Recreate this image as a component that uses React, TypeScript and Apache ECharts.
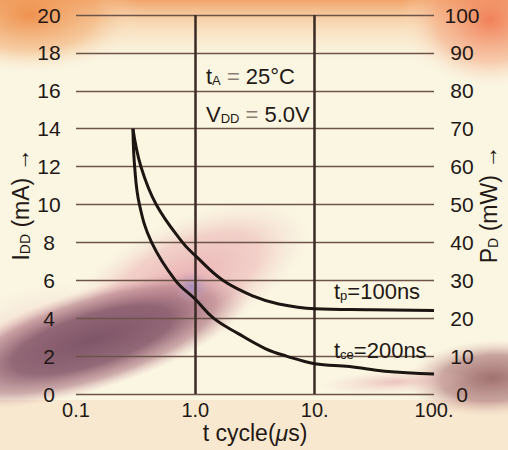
import React, { useEffect, useRef } from 'react';
import * as echarts from 'echarts';

// ---- data ----
const xTickValues = [0.1, 1, 10, 100];
const xTickLabels = ['0.1', '1.0', '10.', '100.'];
const majorCycles = [1, 10]; // vertical rule lines

// t_p = 100ns curve : cycle time (µs) -> I_DD (mA)
const cycleTp = [0.3, 0.35, 0.47, 0.78, 1.0, 1.7, 3.1, 5.0, 10, 30, 100];
const iddTp = [14, 12, 10, 8, 7.3, 6.0, 5.15, 4.75, 4.5, 4.45, 4.4];

// t_ce = 200ns curve
const cycleTce = [0.3, 0.31, 0.34, 0.43, 0.68, 1.0, 1.42, 2.27, 3.85, 5.8, 10, 19.6, 38.6, 100];
const iddTce = [14, 12, 10, 8, 6.0, 5.0, 4.0, 3.2, 2.4, 2.0, 1.6, 1.45, 1.2, 1.05];

const FONT = '"Liberation Sans", Arial, Helvetica, sans-serif';
const INK = '#231815';

const PLOT_LEFT = 76;
const PLOT_RIGHT = 434;
const PLOT_TOP = 15;
const PLOT_BOTTOM = 394;

function bgEllipse(x: number, y: number, rx: number, ry: number, rot: number, stops: [number, string][]) {
  return {
    type: 'ellipse',
    x,
    y,
    rotation: rot,
    shape: { cx: 0, cy: 0, rx, ry },
    style: {
      fill: {
        type: 'radial',
        x: 0.5,
        y: 0.5,
        r: 0.5,
        colorStops: stops.map(([offset, color]) => ({ offset, color })),
      },
    },
    silent: true,
    z: -10,
  };
}

function annText(x: number, y: number, text: string, rich: any) {
  return {
    type: 'text',
    x,
    y,
    z: 100,
    silent: true,
    style: {
      text,
      fill: INK,
      font: `22px ${FONT}`,
      fontSize: 22,
      fontFamily: FONT,
      align: 'left',
      verticalAlign: 'middle',
      rich,
    },
  };
}

const annRich = {
  m: { fontSize: 22, fontFamily: FONT, fill: INK, lineHeight: 24, verticalAlign: 'bottom' },
  s: { fontSize: 13, fontFamily: FONT, fill: INK, lineHeight: 14, verticalAlign: 'bottom' },
  e: { fontSize: 22, fontFamily: FONT, fill: '#8a7b72', lineHeight: 24, verticalAlign: 'bottom' },
};

export default function App() {
  const ref = useRef<HTMLDivElement>(null);

  useEffect(() => {
    if (!ref.current) return;
    const chart = echarts.init(ref.current, null, { renderer: 'svg', width: 508, height: 450 });

    const labelFor = (v: number) => {
      const i = xTickValues.findIndex((t) => Math.abs(Math.log10(t) - Math.log10(v)) < 0.01);
      return i >= 0 ? xTickLabels[i] : '';
    };

    const nameRich = {
      n: { fontSize: 23, fontFamily: FONT, color: INK, lineHeight: 24, verticalAlign: 'bottom' },
      s: { fontSize: 14, fontFamily: FONT, color: INK, lineHeight: 15, verticalAlign: 'bottom' },
    };

    const gridOpt = {
      left: PLOT_LEFT,
      right: 508 - PLOT_RIGHT,
      top: PLOT_TOP,
      bottom: 450 - PLOT_BOTTOM,
      outerBoundsMode: 'none',
      containLabel: false,
    };

    chart.setOption({
      animation: false,
      backgroundColor: '#faf6e2',
      grid: gridOpt,
      xAxis: {
        type: 'log',
        logBase: 10,
        min: 0.1,
        max: 100,
        axisLine: { show: false },
        axisTick: { show: false },
        splitLine: { show: false },
        axisLabel: {
          formatter: labelFor,
          fontSize: 20,
          fontFamily: FONT,
          color: INK,
          margin: 6,
          showMinLabel: true,
          showMaxLabel: true,
        },
        name: '{n|t cycle(}{u|μ}{n|s)}',
        nameLocation: 'middle',
        nameGap: 27,
        nameMoveOverlap: false,
        nameTextStyle: {
          rich: {
            n: { fontSize: 23, fontFamily: FONT, color: INK },
            u: { fontSize: 23, fontFamily: FONT, color: INK, fontStyle: 'italic' },
          },
        },
      },
      yAxis: [
        {
          type: 'value',
          min: 0,
          max: 20,
          interval: 2,
          position: 'left',
          axisLine: { show: false },
          axisTick: { show: false },
          splitLine: { show: true, lineStyle: { color: '#6e534a', width: 1.3 } },
          axisLabel: { fontSize: 21, fontFamily: FONT, color: INK, align: 'center', margin: 27 },
          name: '{n|I}{s|DD}{n| (mA) →}',
          nameLocation: 'middle',
          nameRotate: 90,
          nameGap: 44,
          nameMoveOverlap: false,
          nameTextStyle: { rich: nameRich },
        },
        {
          type: 'value',
          min: 0,
          max: 100,
          interval: 10,
          position: 'right',
          axisLine: { show: false },
          axisTick: { show: false },
          splitLine: { show: false },
          axisLabel: { fontSize: 21, fontFamily: FONT, color: INK, align: 'center', margin: 28 },
          name: '{n|P}{s|D}{n| (mW) →}',
          nameLocation: 'middle',
          nameRotate: 90,
          nameGap: 42,
          nameMoveOverlap: false,
          nameTextStyle: { rich: nameRich },
        },
      ],
      graphic: [
        { type: 'rect', shape: { x: 0, y: 400, width: 508, height: 50 }, style: { fill: 'rgba(246,226,200,0.7)' }, silent: true, z: -11 },
        {
          type: 'rect',
          shape: { x: 0, y: 0, width: 508, height: 70 },
          style: {
            fill: {
              type: 'linear', x: 0, y: 0, x2: 0, y2: 1,
              colorStops: [
                { offset: 0, color: 'rgba(240,150,85,0.85)' },
                { offset: 0.35, color: 'rgba(245,185,130,0.45)' },
                { offset: 1, color: 'rgba(250,246,226,0)' },
              ],
            },
          },
          silent: true,
          z: -10,
        },
        bgEllipse(30, 15, 110, 60, 0, [[0, 'rgba(238,140,70,0.9)'], [0.6, 'rgba(242,170,110,0.5)'], [1, 'rgba(250,240,220,0)']]),
        bgEllipse(490, 20, 90, 70, 0, [[0, 'rgba(240,125,85,0.95)'], [0.6, 'rgba(244,160,120,0.5)'], [1, 'rgba(250,240,220,0)']]),
        bgEllipse(185, 280, 135, 60, 0.45, [[0, 'rgba(230,165,172,0.85)'], [0.6, 'rgba(235,178,180,0.55)'], [1, 'rgba(245,220,210,0)']]),
        bgEllipse(40, 335, 100, 50, 0.25, [[0, 'rgba(232,180,180,0.65)'], [1, 'rgba(245,220,210,0)']]),
        bgEllipse(92, 340, 165, 50, 0.3, [[0, 'rgba(120,78,98,0.95)'], [0.5, 'rgba(135,90,108,0.9)'], [0.78, 'rgba(175,120,132,0.6)'], [1, 'rgba(220,170,175,0)']]),
        bgEllipse(192, 287, 18, 16, 0, [[0, 'rgba(160,140,195,0.8)'], [1, 'rgba(200,170,200,0)']]),
        bgEllipse(492, 378, 85, 38, 0.05, [[0, 'rgba(155,105,105,0.95)'], [0.6, 'rgba(178,128,128,0.7)'], [1, 'rgba(230,190,180,0)']]),
        bgEllipse(395, 382, 75, 12, 0.05, [[0, 'rgba(225,160,165,0.6)'], [1, 'rgba(240,200,200,0)']]),
        annText(206, 75, '{m|t}{s|A}{e| = }{m|25°C}', annRich),
        annText(206, 113, '{m|V}{s|DD}{e| = }{m|5.0V}', annRich),
        annText(334, 290, '{m|t}{s|p}{m|=100ns}', annRich),
        annText(334, 349, '{m|t}{s|ce}{m|=200ns}', annRich),
      ],
      series: [
        {
          name: 'tp=100ns',
          type: 'line',
          data: cycleTp.map((c, i) => [c, iddTp[i]]),
          smooth: 0.4,
          symbol: 'none',
          lineStyle: { color: '#1c1512', width: 3 },
          z: 5,
        },
        {
          name: 'tce=200ns',
          type: 'line',
          data: cycleTce.map((c, i) => [c, iddTce[i]]),
          smooth: 0.4,
          symbol: 'none',
          lineStyle: { color: '#1c1512', width: 3 },
          z: 5,
          markLine: {
            silent: true,
            symbol: ['none', 'none'],
            label: { show: false },
            lineStyle: { color: '#3b2a24', width: 2.5, type: 'solid' },
            data: majorCycles.map((v) => ({ xAxis: v })),
          },
        },
      ],
    });

    // make sure the plot rectangle lands where intended (guards against automatic outer-bound shrinking)
    const xl = chart.convertToPixel({ xAxisIndex: 0 }, 0.1) as number;
    const xr = chart.convertToPixel({ xAxisIndex: 0 }, 100) as number;
    const yb = chart.convertToPixel({ yAxisIndex: 0 }, 0) as number;
    const yt = chart.convertToPixel({ yAxisIndex: 0 }, 20) as number;
    const dl = PLOT_LEFT - xl;
    const dr = PLOT_RIGHT - xr;
    const dt = PLOT_TOP - yt;
    const db = PLOT_BOTTOM - yb;
    if (Math.abs(dl) > 0.5 || Math.abs(dr) > 0.5 || Math.abs(dt) > 0.5 || Math.abs(db) > 0.5) {
      chart.setOption({
        grid: {
          left: gridOpt.left + dl,
          right: gridOpt.right - dr,
          top: gridOpt.top + dt,
          bottom: gridOpt.bottom - db,
        },
      });
    }

    return () => chart.dispose();
  }, []);

  return <div ref={ref} style={{ position: 'absolute', left: 0, top: 0, width: 508, height: 450 }} />;
}
